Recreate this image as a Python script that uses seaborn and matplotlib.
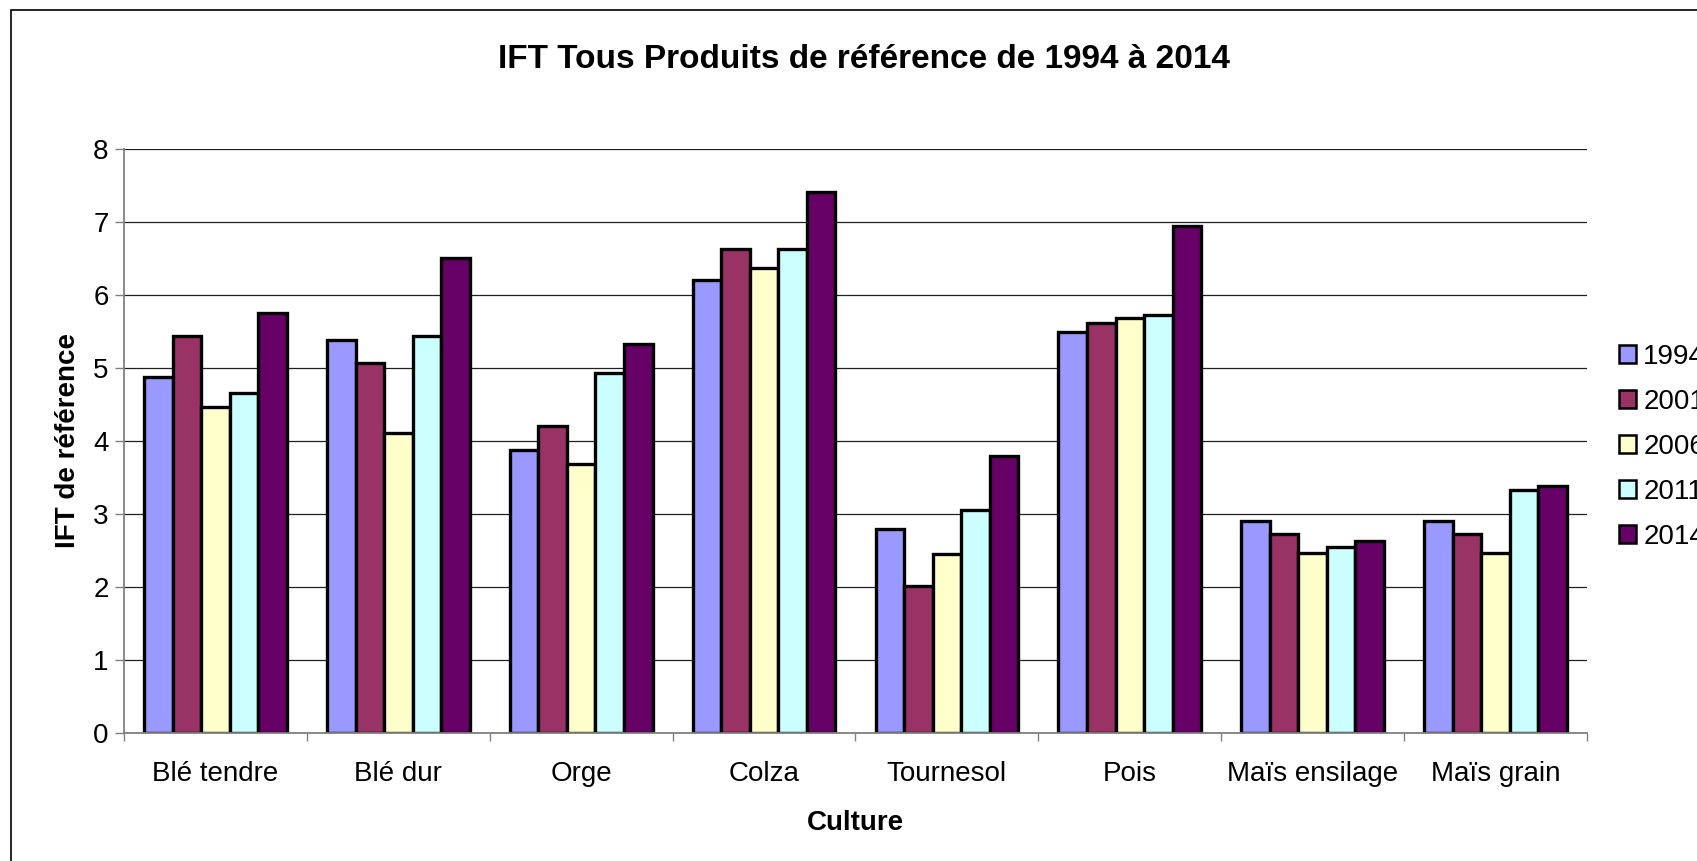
import numpy as np
import pandas as pd
import seaborn as sns
import matplotlib.pyplot as plt
from matplotlib.patches import Patch, Rectangle

# Values
cultures = ["Blé tendre", "Blé dur", "Orge", "Colza", "Tournesol", "Pois",
            "Maïs ensilage", "Maïs grain"]
annees = ["1994", "2001", "2006", "2011", "2014"]
ift_1994 = [4.87, 5.38, 3.88, 6.20, 2.79, 5.49, 2.90, 2.90]
ift_2001 = [5.44, 5.07, 4.21, 6.63, 2.01, 5.62, 2.72, 2.72]
ift_2006 = [4.47, 4.11, 3.68, 6.37, 2.45, 5.68, 2.47, 2.47]
ift_2011 = [4.66, 5.44, 4.93, 6.63, 3.05, 5.73, 2.55, 3.33]
ift_2014 = [5.76, 6.51, 5.33, 7.41, 3.80, 6.95, 2.63, 3.39]
couleurs = ["#9999FF", "#993366", "#FFFFCC", "#CCFFFF", "#660066"]

# Long-form table for seaborn
series = [ift_1994, ift_2001, ift_2006, ift_2011, ift_2014]
df = pd.DataFrame({
    "Culture": cultures * len(annees),
    "IFT": np.concatenate(series),
    "Année": np.repeat(annees, len(cultures)),
})

sns.set_style("white")
plt.rcParams["font.family"] = ["Liberation Sans", "DejaVu Sans"]
plt.rcParams["text.color"] = "black"
plt.rcParams["axes.labelcolor"] = "black"
plt.rcParams["xtick.labelcolor"] = "black"
plt.rcParams["ytick.labelcolor"] = "black"

fig = plt.figure(figsize=(16.97, 8.61), dpi=100)
ax = fig.add_axes([124 / 1697, 1 - 733 / 861, (1587 - 124) / 1697, (733 - 149) / 861])

sns.barplot(data=df, x="Culture", y="IFT", hue="Année", palette=couleurs,
            saturation=1, width=0.78, edgecolor="black", linewidth=2.4,
            legend=False, ax=ax)

ax.set_ylim(0, 8)
ax.set_xlim(-0.5, len(cultures) - 0.5)
ax.set_yticks(range(0, 9))
ax.yaxis.grid(True, color="#202020", linewidth=0.9)
ax.set_axisbelow(True)

for s in ["top", "right"]:
    ax.spines[s].set_visible(False)
for s in ["left", "bottom"]:
    ax.spines[s].set_color("#808080")
    ax.spines[s].set_linewidth(1.3)

ax.tick_params(axis="y", which="major", left=True, length=6.5, width=1,
               color="#808080", pad=4.5, labelsize=20, labelcolor="black")
ax.tick_params(axis="x", which="major", bottom=False, length=0, pad=20,
               labelsize=20, labelcolor="black")
ax.set_xticks(np.arange(-0.5, len(cultures)), minor=True)
ax.tick_params(axis="x", which="minor", bottom=True, length=6, width=1,
               color="#808080")

ax.set_xlabel("Culture", fontsize=20, fontweight="bold", labelpad=17,
              color="black")
ax.set_ylabel("IFT de référence", fontsize=20, fontweight="bold", labelpad=9,
              color="black")
fig.text(864 / 1697, 1 - 60 / 861, "IFT Tous Produits de référence de 1994 à 2014",
         ha="center", va="center", fontsize=24, fontweight="bold", color="black")

handles = [Patch(facecolor=c, edgecolor="black", linewidth=1.8) for c in couleurs]
fig.legend(handles, annees, loc="upper left",
           bbox_to_anchor=(1608 / 1697, 1 - 333 / 861), frameon=False,
           fontsize=20, handlelength=0.62, handleheight=0.62,
           handletextpad=0.25, labelspacing=0.68, borderaxespad=0,
           labelcolor="black")

# chart area border (cut off on the right and bottom like the original)
fig.patches.append(Rectangle((11 / 1697, -0.1), 1.2, 1 - 10 / 861 + 0.1,
                             transform=fig.transFigure, fill=False,
                             edgecolor="black", linewidth=1.2))

fig.savefig("out.png", dpi=100)
